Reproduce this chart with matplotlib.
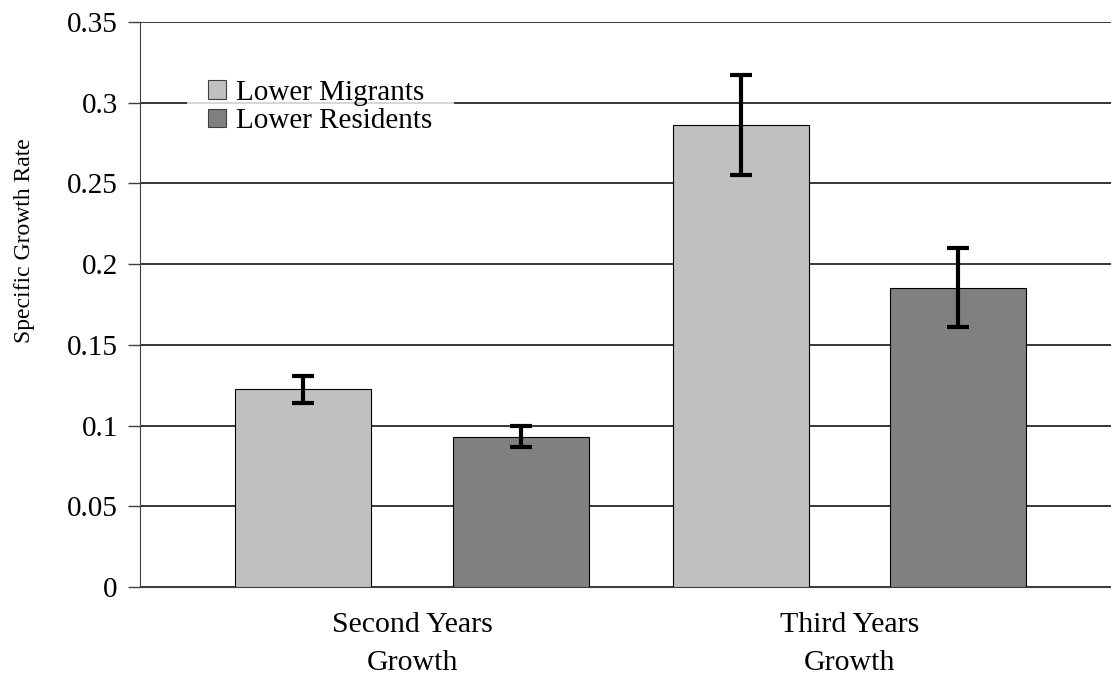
import matplotlib.pyplot as plt
import numpy as np

plt.rcParams['font.family'] = ['Liberation Serif', 'DejaVu Serif']

# growth rates per group
categories = ['Second Years\nGrowth', 'Third Years\nGrowth']
series_names = ['Lower Migrants', 'Lower Residents']
migrants = [0.1224, 0.2862]
migrants_err = [0.0084, 0.0310]
residents = [0.0932, 0.1853]
residents_err = [0.0066, 0.0245]
colors = ['#c0c0c0', '#808080']

y_ticks = [0, 0.05, 0.1, 0.15, 0.2, 0.25, 0.3, 0.35]
y_tick_labels = ['0', '0.05', '0.1', '0.15', '0.2', '0.25', '0.3', '0.35']

fig = plt.figure(figsize=(11.11, 6.75), dpi=100)
ax = fig.add_axes([0.126, 0.1304, 0.874, 0.837])

x = np.arange(len(categories))
width = 0.311
offset = 0.249
err_style = dict(ecolor='black', elinewidth=3, capsize=8, capthick=3)

ax.bar(x - offset, migrants, width, yerr=migrants_err, color=colors[0],
       edgecolor='black', linewidth=0.8, label=series_names[0], zorder=3,
       error_kw=err_style)
ax.bar(x + offset, residents, width, yerr=residents_err, color=colors[1],
       edgecolor='black', linewidth=0.8, label=series_names[1], zorder=3,
       error_kw=err_style)

ax.set_xlim(-0.622, 1.598)
ax.set_ylim(0, 0.35)
ax.set_yticks(y_ticks)
ax.set_yticklabels(y_tick_labels, fontsize=21)
ax.yaxis.grid(True, color='black', linewidth=1.1, zorder=0)
ax.set_axisbelow(True)
ax.tick_params(axis='y', length=9, width=1, color='#404040', pad=7)

ax.set_xticks(x)
ax.set_xticklabels(categories, fontsize=21.5, linespacing=1.6)
ax.tick_params(axis='x', length=0, pad=18)

for side in ['top', 'right']:
    ax.spines[side].set_visible(False)
ax.spines['left'].set_color('#404040')
ax.spines['bottom'].set_color('#404040')

fig.text(0.022, 0.643, 'Specific Growth Rate', rotation=90, fontsize=17,
         ha='center', va='center')

leg = ax.legend(loc='upper left', bbox_to_anchor=(0.048, 0.936), fontsize=21,
                frameon=True, fancybox=False, edgecolor='white',
                handlelength=0.6, handleheight=0.6, handletextpad=0.35,
                labelspacing=0.08, borderpad=0.75, borderaxespad=0)
leg.get_frame().set_linewidth(0)
for h in leg.legend_handles:
    h.set_edgecolor('#404040')

fig.savefig('out.png', dpi=100)
